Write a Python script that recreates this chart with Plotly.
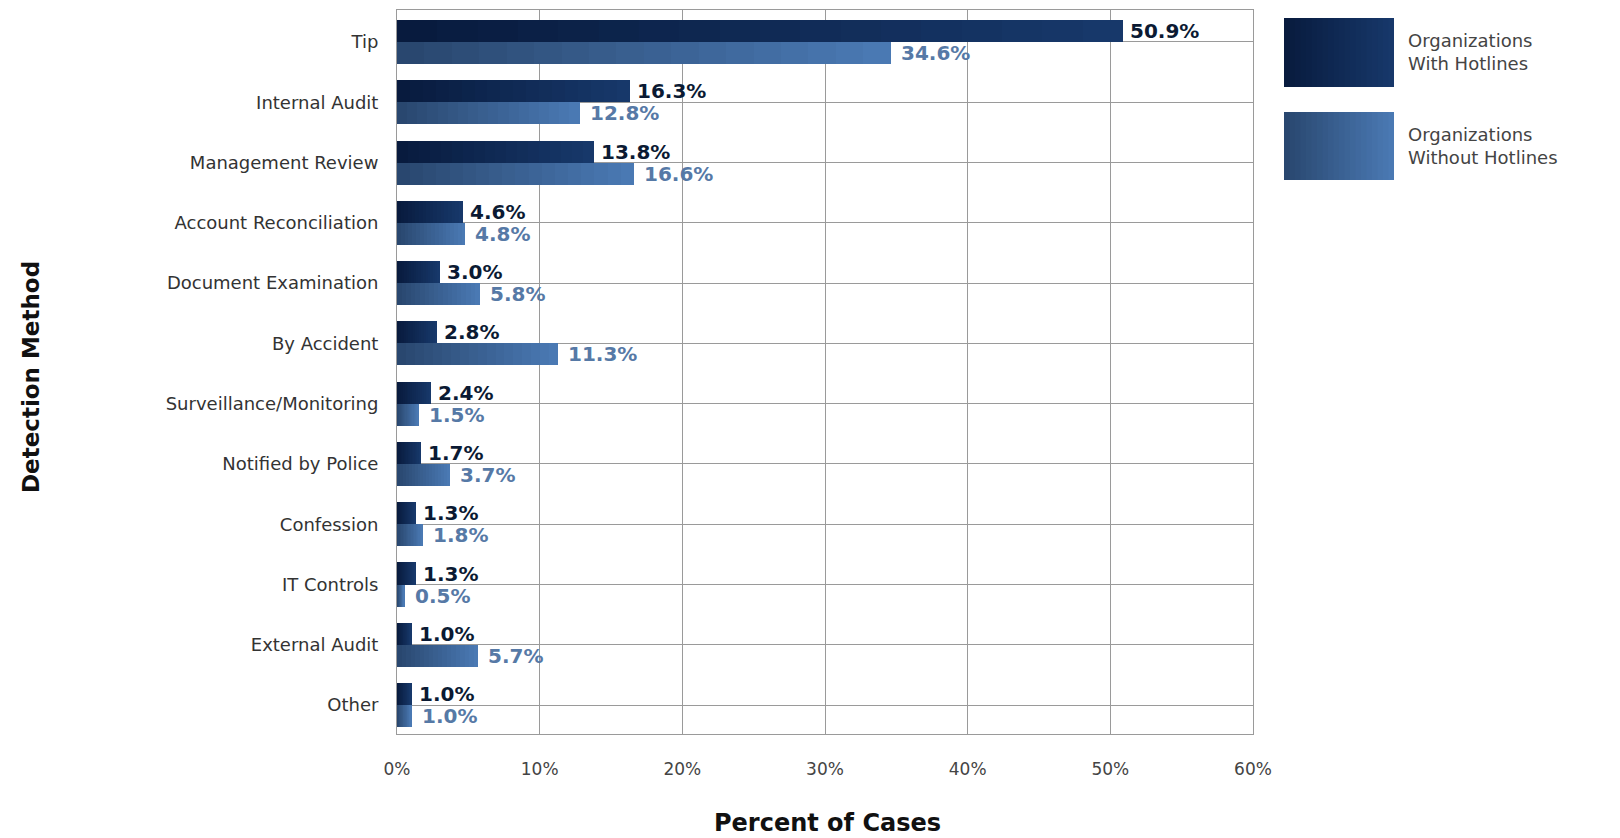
import plotly.graph_objects as go

categories = ["Tip", "Internal Audit", "Management Review", "Account Reconciliation",
              "Document Examination", "By Accident", "Surveillance/Monitoring",
              "Notified by Police", "Confession", "IT Controls", "External Audit", "Other"]
with_hotlines = [50.9, 16.3, 13.8, 4.6, 3.0, 2.8, 2.4, 1.7, 1.3, 1.3, 1.0, 1.0]
without_hotlines = [34.6, 12.8, 16.6, 4.8, 5.8, 11.3, 1.5, 3.7, 1.8, 0.5, 5.7, 1.0]
series_names = ["Organizations<br>With Hotlines", "Organizations<br>Without Hotlines"]
x_ticks = [0, 10, 20, 30, 40, 50, 60]
x_ticklabels = ["0%", "10%", "20%", "30%", "40%", "50%", "60%"]

W, H = 1620, 838
L, R, T, B = 397, 1253, 10, 734
BW = 0.365
N = 18

def lerp(c1, c2, t):
    a = [int(c1[i:i + 2], 16) for i in (1, 3, 5)]
    b = [int(c2[i:i + 2], 16) for i in (1, 3, 5)]
    return "#" + "".join(f"{round(a[k] + (b[k] - a[k]) * t):02x}" for k in range(3))

grads = [("#081b3e", "#17386a"), ("#29476f", "#4a79b3")]
label_cols = ["#0b1a33", "#5679a6"]
offsets = [-BW, 0.0]
pads = ["\u2009", "\u00a0"]

fig = go.Figure()
for s, vals in enumerate([with_hotlines, without_hotlines]):
    c1, c2 = grads[s]
    for k in range(N):
        last = k == N - 1
        fig.add_trace(go.Bar(
            y=categories,
            x=[v * (1 - k / N) for v in vals],
            base=[v * k / N for v in vals],
            orientation="h",
            width=BW,
            offset=offsets[s],
            marker=dict(color=lerp(c1, c2, k / (N - 1)), line=dict(width=0)),
            text=[f"{pads[s]}{v:.1f}%" for v in vals] if last else None,
            textposition="outside" if last else "none",
            textfont=dict(family="DejaVu Sans", size=20, color=label_cols[s], weight="bold"),
            cliponaxis=False,
            constraintext="none",
            showlegend=False,
            hoverinfo="skip",
        ))

def px(xp):
    return (xp - L) / (R - L)

def py(yp):
    return (B - yp) / (B - T)

shapes = []
annotations = []
boxes = [(18, 87), (112, 180)]
for s, (y0, y1) in enumerate(boxes):
    c1, c2 = grads[s]
    x0, x1 = 1284, 1394
    steps = 20
    for k in range(steps):
        shapes.append(dict(type="rect", xref="paper", yref="paper",
                           x0=px(x0 + (x1 - x0) * k / steps), x1=px(x1),
                           y0=py(y1), y1=py(y0),
                           fillcolor=lerp(c1, c2, k / (steps - 1)), line=dict(width=0), layer="above"))
    annotations.append(dict(text=series_names[s], xref="paper", yref="paper",
                            x=px(1406), y=py((y0 + y1) / 2), xanchor="left", yanchor="middle",
                            align="left", showarrow=False,
                            font=dict(family="DejaVu Sans", size=18, color="#444444")))

annotations.append(dict(text="Detection Method", xref="paper", yref="paper",
                        x=px(31), y=py(377), textangle=-90, showarrow=False,
                        xanchor="center", yanchor="middle",
                        font=dict(family="DejaVu Sans", size=23, color="#111111", weight="bold")))
annotations.append(dict(text="Percent of Cases", xref="paper", yref="paper",
                        x=px(827), y=py(823), showarrow=False,
                        xanchor="center", yanchor="middle",
                        font=dict(family="DejaVu Sans", size=24, color="#111111", weight="bold")))

fig.update_layout(
    width=W, height=H,
    margin=dict(l=L, r=W - R, t=T, b=H - B, pad=0),
    barmode="overlay",
    bargap=0,
    plot_bgcolor="white", paper_bgcolor="white",
    shapes=shapes, annotations=annotations,
    xaxis=dict(range=[0, 60], tickvals=x_ticks, ticktext=x_ticklabels,
               showgrid=True, gridcolor="#9a9a9a", gridwidth=1,
               showline=True, linecolor="#9a9a9a", mirror=True,
               zeroline=False, ticks="", ticklabelstandoff=20,
               tickfont=dict(family="DejaVu Sans", size=17, color="#444444")),
    yaxis=dict(categoryorder="array", categoryarray=categories,
               range=[11.48, -0.53],
               showgrid=True, gridcolor="#9a9a9a", gridwidth=1,
               showline=True, linecolor="#9a9a9a", mirror=True,
               zeroline=False, ticks="", ticklabelstandoff=14,
               tickfont=dict(family="DejaVu Sans", size=18, color="#333333")),
)

fig.write_html("out.html")
